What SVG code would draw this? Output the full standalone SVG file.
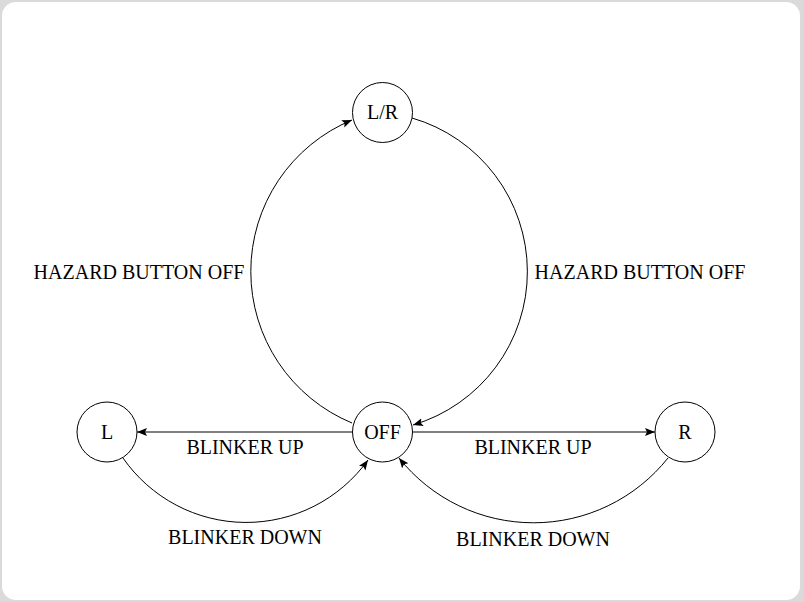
<svg xmlns="http://www.w3.org/2000/svg" width="804" height="602" viewBox="0 0 804 602">
  <defs>
    <marker id="arr" markerUnits="userSpaceOnUse" markerWidth="12" markerHeight="10" refX="10" refY="4" orient="auto">
      <path d="M0,0 L10,4 L0,8 L2,4 z" fill="#000"/>
    </marker>
    <style>
      .node circle { fill: #fff; stroke: #000; stroke-width: 1; }
      .lbl { font-family: "Liberation Serif", "Times New Roman", serif; font-size: 20px; fill: #000; text-anchor: middle; }
      .edge { fill: none; stroke: #000; stroke-width: 1; marker-end: url(#arr); }
    </style>
  </defs>
  <rect x="0" y="0" width="804" height="602" fill="#dadada"/>
  <rect x="2" y="2" width="798" height="598" rx="14" fill="#ffffff"/>

  <g id="connectors">
    <path class="edge" d="M352,423 A164,164 0 0 1 352,120"/>
    <path class="edge" d="M412,118 A160,160 0 0 1 413,425"/>
    <path class="edge" d="M352.5,432 L137,432"/>
    <path class="edge" d="M412.5,432 L655,432"/>
    <path class="edge" d="M123,458 A150,150 0 0 0 368,460"/>
    <path class="edge" d="M668,458 A172,172 0 0 1 399,458"/>
  </g>

  <g id="edge-labels">
    <text class="lbl" x="139" y="279">HAZARD BUTTON OFF</text>
    <text class="lbl" x="640" y="279">HAZARD BUTTON OFF</text>
    <text class="lbl" x="245" y="454">BLINKER UP</text>
    <text class="lbl" x="533" y="454">BLINKER UP</text>
    <text class="lbl" x="245" y="544">BLINKER DOWN</text>
    <text class="lbl" x="533" y="546">BLINKER DOWN</text>
  </g>

  <g id="node-LR" class="node">
    <circle cx="382.5" cy="112.5" r="30"/>
    <text class="lbl" x="382.5" y="119">L/R</text>
  </g>
  <g id="node-OFF" class="node">
    <circle cx="382.5" cy="432" r="30"/>
    <text class="lbl" x="382.5" y="438.5">OFF</text>
  </g>
  <g id="node-L" class="node">
    <circle cx="107" cy="432" r="30"/>
    <text class="lbl" x="107" y="438.5">L</text>
  </g>
  <g id="node-R" class="node">
    <circle cx="685" cy="432" r="30"/>
    <text class="lbl" x="685" y="438.5">R</text>
  </g>
</svg>
